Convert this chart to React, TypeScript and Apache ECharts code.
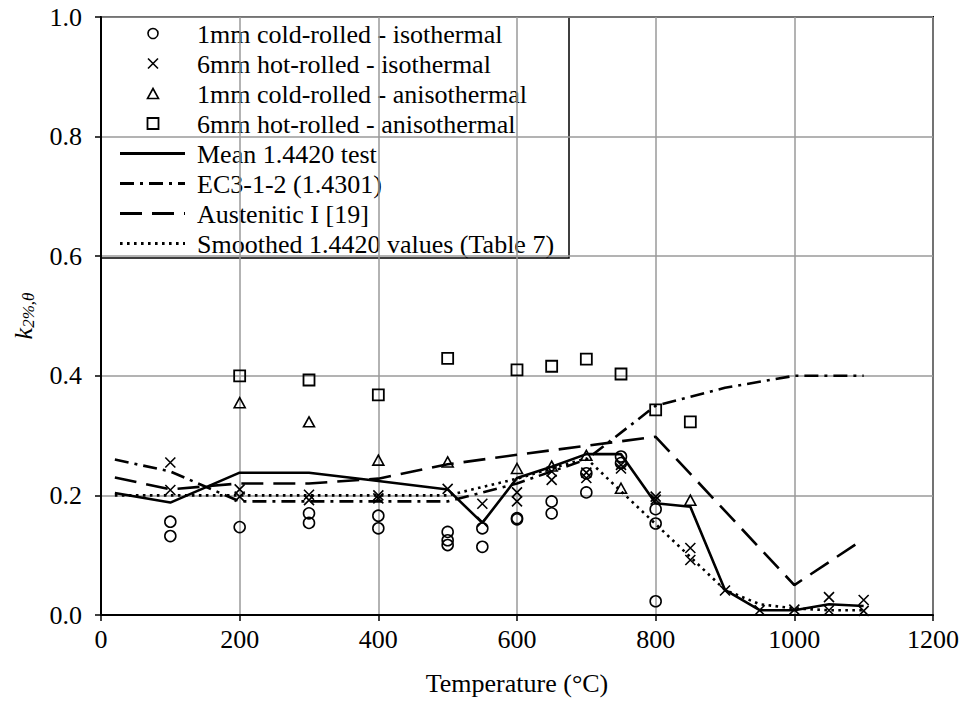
import React, { useEffect, useRef } from "react";
import * as echarts from "echarts";

const FONT = "'Liberation Serif', 'Times New Roman', serif";
const FS = 26;

const coldIsoT = [100, 100, 200, 300, 300, 400, 400, 500, 500, 500, 550, 550, 600, 600, 650, 650, 700, 700, 750, 750, 800, 800, 800];
const coldIsoK = [0.156, 0.132, 0.147, 0.170, 0.154, 0.166, 0.145, 0.139, 0.125, 0.117, 0.145, 0.114, 0.162, 0.160, 0.190, 0.170, 0.205, 0.237, 0.265, 0.254, 0.177, 0.153, 0.023];

const hotIsoT = [100, 100, 200, 200, 300, 300, 400, 400, 500, 550, 550, 600, 600, 650, 650, 700, 700, 750, 750, 800, 800, 850, 850, 900, 950, 1000, 1050, 1050, 1100, 1100];
const hotIsoK = [0.255, 0.209, 0.210, 0.198, 0.201, 0.192, 0.200, 0.195, 0.211, 0.186, 0.156, 0.205, 0.190, 0.226, 0.240, 0.238, 0.229, 0.251, 0.245, 0.198, 0.193, 0.112, 0.092, 0.041, 0.008, 0.009, 0.030, 0.008, 0.025, 0.007];

const coldAnisoT = [200, 300, 400, 500, 600, 650, 700, 750, 850];
const coldAnisoK = [0.355, 0.323, 0.259, 0.256, 0.245, 0.249, 0.267, 0.212, 0.192];

const hotAnisoT = [200, 300, 400, 500, 600, 650, 700, 750, 800, 850];
const hotAnisoK = [0.400, 0.393, 0.368, 0.429, 0.410, 0.416, 0.428, 0.403, 0.343, 0.323];

const meanT = [20, 100, 200, 300, 400, 500, 550, 600, 650, 700, 750, 800, 850, 900, 950, 1000, 1050, 1100];
const meanK = [0.204, 0.188, 0.238, 0.238, 0.224, 0.210, 0.154, 0.229, 0.248, 0.269, 0.269, 0.187, 0.181, 0.042, 0.008, 0.008, 0.018, 0.015];

const ec3T = [20, 100, 200, 300, 400, 500, 600, 700, 800, 900, 1000, 1100];
const ec3K = [0.26, 0.24, 0.19, 0.19, 0.19, 0.19, 0.22, 0.26, 0.35, 0.38, 0.40, 0.40];

const austT = [20, 100, 200, 300, 400, 500, 600, 700, 800, 1000, 1100];
const austK = [0.230, 0.210, 0.220, 0.220, 0.228, 0.252, 0.268, 0.283, 0.298, 0.050, 0.127];

const smoothT = [20, 100, 200, 300, 400, 500, 600, 700, 800, 900, 950, 1000, 1050, 1100];
const smoothK = [0.200, 0.200, 0.200, 0.200, 0.200, 0.200, 0.228, 0.262, 0.152, 0.042, 0.018, 0.011, 0.008, 0.008];

const seriesNames = [
  "1mm cold-rolled - isothermal",
  "6mm hot-rolled - isothermal",
  "1mm cold-rolled - anisothermal",
  "6mm hot-rolled - anisothermal",
  "Mean 1.4420 test",
  "EC3-1-2 (1.4301)",
  "Austenitic I [19]",
  "Smoothed 1.4420 values (Table 7)",
];

const xTicks = { min: 0, max: 1200, interval: 200 };
const yTicks = { min: 0, max: 1, interval: 0.2 };

const zip = (t: number[], k: number[]) => t.map((v, i) => [v, k[i]]);

const markerStyle = (w: number) => ({ color: "rgba(0,0,0,0)", borderColor: "#000", borderWidth: w, opacity: 1 });

const DASH_EC3 = [14, 6, 3, 6];
const DASH_AUST = [22, 10];
const DASH_SMOOTH = [2.6, 4.4];
const LINE_W = 2.6;

const labelRich = { a: { fontFamily: FONT, fontSize: FS, color: "#000" } };

function buildLegend() {
  const L = 101, T = 17, W = 468, H = 241;
  const rowY = (i: number) => T + 16.5 + 30 * i;
  const mx = L + 52;
  const children: any[] = [
    { type: "rect", shape: { x: L, y: T, width: W, height: H }, style: { fill: "#fff", stroke: "#000", lineWidth: 1.5 } },
  ];
  const ms = { fill: "none", stroke: "#000", lineWidth: 1.6 };
  children.push({ type: "circle", shape: { cx: mx, cy: rowY(0), r: 5 }, style: ms });
  children.push({ type: "line", shape: { x1: mx - 5, y1: rowY(1) - 5, x2: mx + 5, y2: rowY(1) + 5 }, style: ms });
  children.push({ type: "line", shape: { x1: mx + 5, y1: rowY(1) - 5, x2: mx - 5, y2: rowY(1) + 5 }, style: ms });
  children.push({ type: "polygon", shape: { points: [[mx, rowY(2) - 5], [mx + 5.5, rowY(2) + 5], [mx - 5.5, rowY(2) + 5]] }, style: ms });
  children.push({ type: "rect", shape: { x: mx - 5.5, y: rowY(3) - 5.5, width: 11, height: 11 }, style: { ...ms, lineWidth: 1.8 } });
  const dashes: any[] = [null, DASH_EC3, DASH_AUST, DASH_SMOOTH];
  dashes.forEach((d, j) => {
    children.push({
      type: "line",
      shape: { x1: L + 19, y1: rowY(4 + j), x2: L + 84, y2: rowY(4 + j) },
      style: { stroke: "#000", lineWidth: LINE_W + 0.4, lineDash: d || undefined },
    });
  });
  seriesNames.forEach((n, i) => {
    children.push({
      type: "text",
      x: L + 96,
      y: rowY(i) + 1,
      style: { text: n, font: `${FS}px ${FONT}`, fill: "#000", verticalAlign: "middle", align: "left" },
    });
  });
  return [{ type: "group", z: 100, children }];
}

export default function App() {
  const ref = useRef<HTMLDivElement>(null);
  useEffect(() => {
    if (!ref.current) return;
    const chart = echarts.init(ref.current, undefined, { renderer: "svg" });
    const lineSeries = (name: string, t: number[], k: number[], type: any, z: number) => ({
      name,
      type: "line",
      data: zip(t, k),
      symbol: "none",
      showSymbol: false,
      z,
      lineStyle: { color: "#000", width: LINE_W, type, cap: "butt" },
      itemStyle: { color: "#000" },
    });
    chart.setOption({
      animation: false,
      backgroundColor: "#fff",
      textStyle: { fontFamily: FONT, color: "#000" },
      grid: { left: 101, right: 32, top: 17, bottom: 92, containLabel: false, show: true, borderColor: "#000", borderWidth: 2 },
      graphic: buildLegend(),
      xAxis: {
        type: "value",
        ...xTicks,
        name: "Temperature (°C)",
        nameLocation: "middle",
        nameGap: 55,
        nameTextStyle: { fontFamily: FONT, fontSize: FS, color: "#000" },
        axisLine: { show: true, lineStyle: { color: "#000", width: 2 } },
        axisTick: { show: true, inside: false, length: 6, lineStyle: { color: "#000", width: 1.5 } },
        axisLabel: { fontFamily: FONT, fontSize: FS, color: "#000", margin: 11, formatter: (v: number) => `{a|${v}}`, rich: labelRich },
        splitLine: { show: true, lineStyle: { color: "#9a9a9a", width: 1.5 } },
      },
      yAxis: {
        type: "value",
        ...yTicks,
        name: "{i|k}{s|2%,θ}",
        nameLocation: "middle",
        nameGap: 64,
        nameRotate: 90,
        nameTextStyle: {
          rich: {
            i: { fontFamily: FONT, fontSize: 26, fontStyle: "italic", color: "#000", lineHeight: 28 },
            s: { fontFamily: FONT, fontSize: 17, fontStyle: "italic", color: "#000", lineHeight: 28, verticalAlign: "bottom", padding: [11, 0, 0, 0] },
          },
        },
        axisLine: { show: true, lineStyle: { color: "#000", width: 2 } },
        axisTick: { show: true, inside: false, length: 6, lineStyle: { color: "#000", width: 1.5 } },
        axisLabel: { fontFamily: FONT, fontSize: FS, color: "#000", margin: 19, formatter: (v: number) => `{a|${v.toFixed(1)}}`, rich: labelRich },
        splitLine: { show: true, lineStyle: { color: "#9a9a9a", width: 1.5 } },
      },
      series: [
        { name: seriesNames[0], type: "scatter", data: zip(coldIsoT, coldIsoK), symbol: "circle", symbolSize: 11, itemStyle: markerStyle(1.6), z: 3 },
        { name: seriesNames[1], type: "scatter", data: zip(hotIsoT, hotIsoK), symbol: "path://M0,0L10,10M10,0L0,10", symbolSize: 10, itemStyle: markerStyle(1.6), z: 3 },
        { name: seriesNames[2], type: "scatter", data: zip(coldAnisoT, coldAnisoK), symbol: "triangle", symbolSize: [11, 10], itemStyle: markerStyle(1.6), z: 3 },
        { name: seriesNames[3], type: "scatter", data: zip(hotAnisoT, hotAnisoK), symbol: "rect", symbolSize: 11, itemStyle: markerStyle(1.8), z: 3 },
        lineSeries(seriesNames[4], meanT, meanK, "solid", 4),
        lineSeries(seriesNames[5], ec3T, ec3K, DASH_EC3, 4),
        lineSeries(seriesNames[6], austT, austK, DASH_AUST, 4),
        lineSeries(seriesNames[7], smoothT, smoothK, DASH_SMOOTH, 4),
      ],
    });
    return () => chart.dispose();
  }, []);
  return <div ref={ref} style={{ position: "fixed", left: 0, top: 0, width: 965, height: 707 }} />;
}
